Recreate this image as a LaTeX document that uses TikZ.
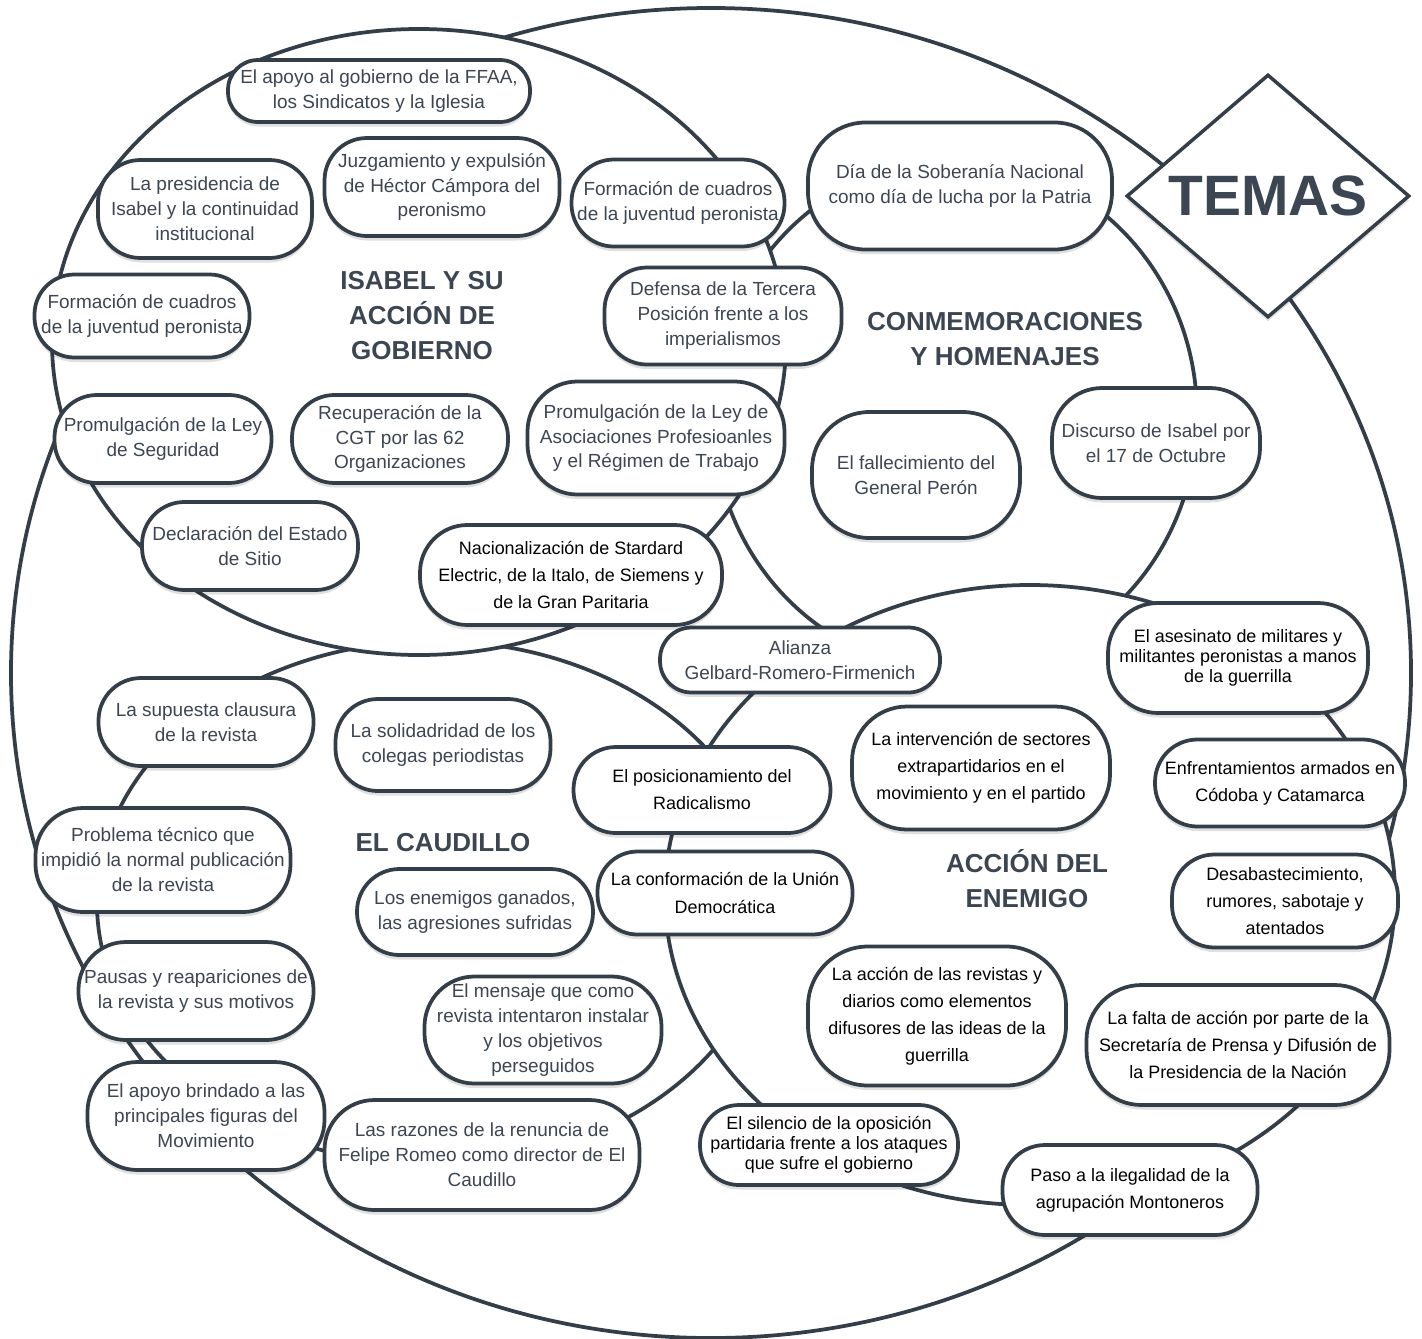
\documentclass[tikz,border=0pt]{standalone}
\usepackage{fontspec}
\setmainfont{Liberation Sans}
\usetikzlibrary{shapes.geometric,shadows}

\definecolor{linegray}{RGB}{52,62,72}
\definecolor{textgray}{RGB}{60,70,82}

\tikzset{
  ring/.style={draw=linegray, line width=0.75mm, fill=white},
  topic/.style 2 args={draw=linegray, line width=0.75mm, fill=white, rounded corners=8.5mm,
    minimum width=#1, minimum height=#2, inner sep=0pt, align=center, text=textgray,
    font=\fontsize{10.8}{14.2}\selectfont,
    drop shadow={shadow xshift=0mm, shadow yshift=-0.9mm, opacity=0.12, fill=black}},
  enemy/.style 2 args={topic={#1}{#2}, text=black, font=\fontsize{10.2}{15.4}\selectfont},
  tight/.style 2 args={topic={#1}{#2}, text=black, font=\fontsize{10.2}{11.3}\selectfont},
  heading/.style={align=center, text=textgray, font=\bfseries\fontsize{14.8}{19.9}\selectfont},
}

\begin{document}
\begin{tikzpicture}[x=0.2mm,y=-0.2mm]
    \useasboundingbox (0,0) rectangle (1422,1338);

    % the big frame and the four groups
    \draw[ring] (711,673) ellipse [x radius=140mm, y radius=133mm];
    \draw[ring] (955,415) ellipse [x radius=48.4mm, y radius=51mm];
    \draw[ring] (434,903) ellipse [x radius=67.4mm, y radius=52.4mm];
    \draw[ring] (1030,895) ellipse [x radius=73mm, y radius=62mm];
    \draw[ring] (419,342) ellipse [x radius=73.4mm, y radius=62.6mm];

    \node [heading] (isabel) at (422,316) {ISABEL Y SU\\ACCIÓN DE\\GOBIERNO};
    \node [heading] (conmem) at (1005,339) {CONMEMORACIONES\\Y HOMENAJES};
    \node [heading] (accion) at (1027,879) {ACCIÓN DEL\\ENEMIGO};
    \node [heading] (caudillo) at (443,843) {EL CAUDILLO};

    \node [draw=linegray, line width=0.7mm, fill=white, diamond, aspect=1.165, minimum width=56.6mm,
        minimum height=48.6mm, inner sep=0pt, text=textgray, font=\bfseries\fontsize{32.4}{36}\selectfont,
        drop shadow={shadow xshift=0mm, shadow yshift=-0.9mm, opacity=0.12, fill=black}] (temas) at (1268,196) {TEMAS};

    % Isabel
    \node [topic={60.4mm}{12.4mm}, rounded corners=6mm] (apoyo) at (379,91) {El apoyo al gobierno de la FFAA,\\los Sindicatos y la Iglesia};
    \node [topic={42.8mm}{19.6mm}] (presidencia) at (205,209) {La presidencia de\\Isabel y la continuidad\\institucional};
    \node [topic={47mm}{19.6mm}] (juzgamiento) at (442,187) {Juzgamiento y expulsión\\de Héctor Cámpora del\\peronismo};
    \node [topic={42.6mm}{17.4mm}] (cuadrosR) at (678,203) {Formación de cuadros\\de la juventud peronista};
    \node [topic={43mm}{16.6mm}, rounded corners=8mm] (cuadrosL) at (142,316) {Formación de cuadros\\de la juventud peronista};
    \node [topic={47.4mm}{19.4mm}] (defensa) at (723,316) {Defensa de la Tercera\\Posición frente a los\\imperialismos};
    \node [topic={43.4mm}{17.6mm}] (seguridad) at (163,439) {Promulgación de la Ley\\de Seguridad};
    \node [topic={43.2mm}{17.6mm}] (cgt) at (400,439) {Recuperación de la\\CGT por las 62\\Organizaciones};
    \node [topic={51.4mm}{22.6mm}, rounded corners=10mm] (asociaciones) at (656,438) {Promulgación de la Ley de\\Asociaciones Profesioanles\\y el Régimen de Trabajo};
    \node [topic={43.2mm}{17.6mm}] (sitio) at (250,546) {Declaración del Estado\\de Sitio};
    \node [enemy={60.4mm}{20mm}, rounded corners=9.5mm] (nacionalizacion) at (571,575) {Nacionalización de Stardard\\Electric, de la Italo, de Siemens y\\de la Gran Paritaria};

    % Conmemoraciones
    \node [topic={60.8mm}{25.4mm}, rounded corners=11.5mm] (soberania) at (960,186) {Día de la Soberanía Nacional\\como día de lucha por la Patria};
    \node [topic={41.6mm}{25.2mm}, rounded corners=11.5mm] (peron) at (916,475) {El fallecimiento del\\General Perón};
    \node [topic={41.6mm}{22mm}, rounded corners=10mm] (discurso) at (1156,443) {Discurso de Isabel por\\el 17 de Octubre};

    % Accion del enemigo
    \node [topic={56mm}{13mm}, rounded corners=6.3mm] (alianza) at (800,660) {Alianza\\Gelbard-Romero-Firmenich};
    \node [tight={52mm}{22mm}, rounded corners=10mm] (asesinato) at (1238,658) {El asesinato de militares y\\militantes peronistas a manos\\de la guerrilla};
    \node [enemy={51.6mm}{24.6mm}, rounded corners=11mm] (intervencion) at (981,768) {La intervención de sectores\\extrapartidarios en el\\movimiento y en el partido};
    \node [enemy={50mm}{17.4mm}] (enfrentamientos) at (1280,783) {Enfrentamientos armados en\\Códoba y Catamarca};
    \node [enemy={51.4mm}{17.2mm}] (radicalismo) at (702,790) {El posicionamiento del\\Radicalismo};
    \node [enemy={45.2mm}{18.6mm}] (desabastecimiento) at (1285,901) {Desabastecimiento,\\rumores, sabotaje y\\atentados};
    \node [enemy={51mm}{16.6mm}, rounded corners=8mm] (union) at (725,893) {La conformación de la Unión\\Democrática};
    \node [enemy={51.6mm}{27.8mm}, rounded corners=12mm] (revistas) at (937,1016) {La acción de las revistas y\\diarios como elementos\\difusores de las ideas de la\\guerrilla};
    \node [enemy={60.6mm}{24mm}, rounded corners=11mm] (secretaria) at (1238,1045) {La falta de acción por parte de la\\Secretaría de Prensa y Difusión de\\la Presidencia de la Nación};
    \node [tight={51.6mm}{16mm}, rounded corners=7.8mm] (silencio) at (829,1145) {El silencio de la oposición\\partidaria frente a los ataques\\que sufre el gobierno};
    \node [enemy={51mm}{18mm}] (montoneros) at (1130,1190) {Paso a la ilegalidad de la\\agrupación Montoneros};

    % El Caudillo
    \node [topic={43mm}{17.6mm}] (clausura) at (206,722) {La supuesta clausura\\de la revista};
    \node [topic={43mm}{18.4mm}] (solidaridad) at (443,745) {La solidadridad de los\\colegas periodistas};
    \node [topic={51mm}{20.8mm}, rounded corners=9.5mm] (problema) at (163,860) {Problema técnico que\\impidió la normal publicación\\de la revista};
    \node [topic={47.2mm}{17.2mm}] (enemigos) at (475,912) {Los enemigos ganados,\\las agresiones sufridas};
    \node [topic={47mm}{19.6mm}, rounded corners=9.5mm] (pausas) at (196,991) {Pausas y reapariciones de\\la revista y sus motivos};
    \node [topic={47.4mm}{21.4mm}, rounded corners=10mm] (mensaje) at (543,1030) {El mensaje que como\\revista intentaron instalar\\y los objetivos\\perseguidos};
    \node [topic={47.4mm}{21.6mm}, rounded corners=10mm] (figuras) at (206,1116) {El apoyo brindado a las\\principales figuras del\\Movimiento};
    \node [topic={63mm}{22mm}, rounded corners=10mm] (renuncia) at (482,1155) {Las razones de la renuncia de\\Felipe Romeo como director de El\\Caudillo};
\end{tikzpicture}
\end{document}
